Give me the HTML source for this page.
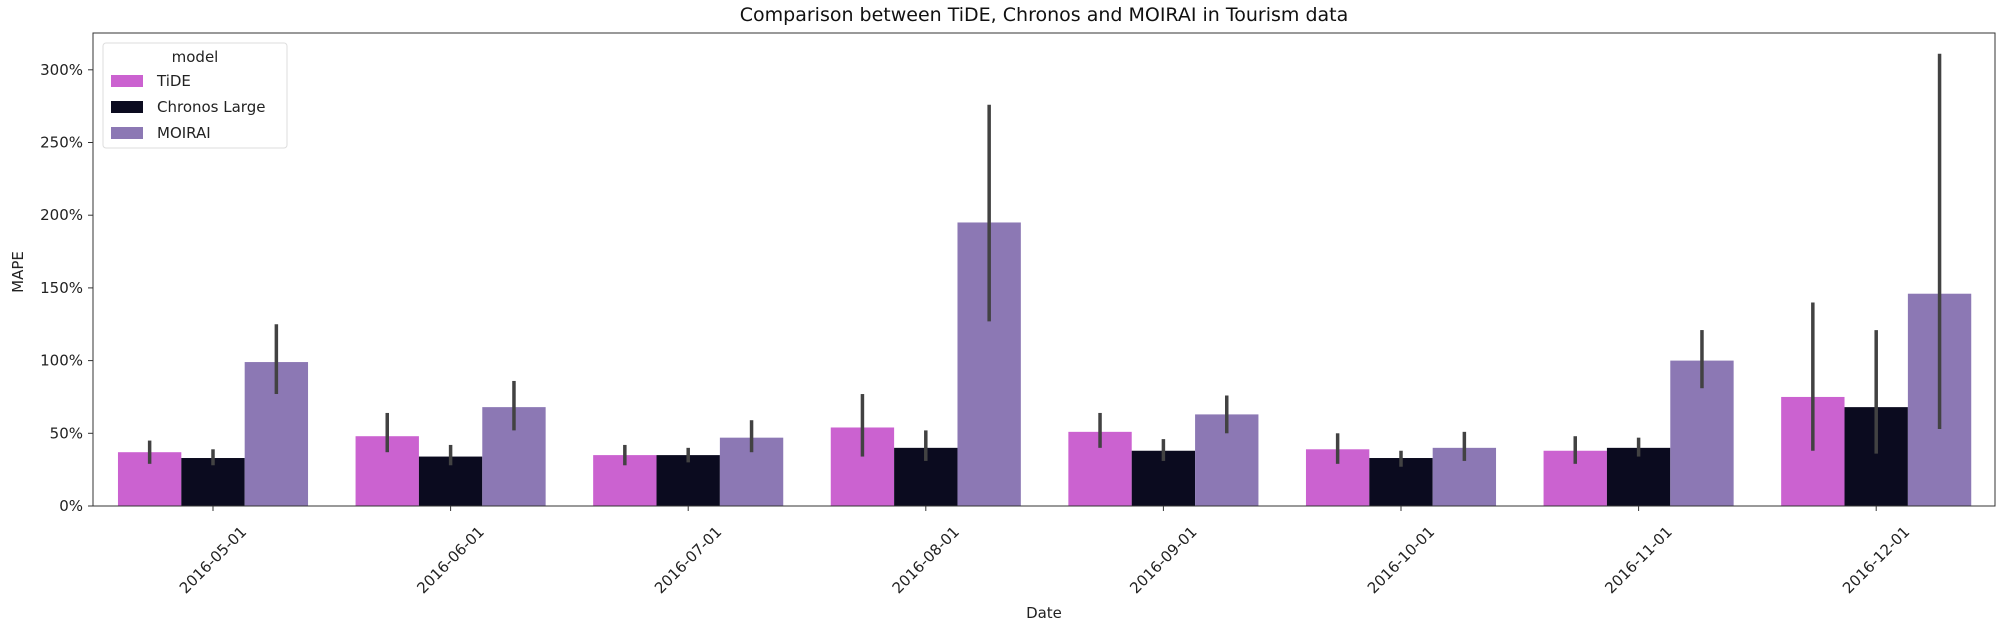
<!DOCTYPE html>
<html><head><meta charset="utf-8">
<style>
body{margin:0;background:#fff;}
svg{display:block;font-family:"DejaVu Sans","Liberation Sans",sans-serif;}
</style></head>
<body>
<svg id="chart" width="2000" height="623" viewBox="0 0 2000 623">
<text x="1044" y="21" text-anchor="middle" font-size="19" fill="#111">Comparison between TiDE, Chronos and MOIRAI in Tourism data</text>
<g id="plot"></g>
<text x="1044" y="618" text-anchor="middle" font-size="15" fill="#222">Date</text>
<text transform="translate(23,272) rotate(-90)" text-anchor="middle" font-size="15" fill="#222">MAPE</text>
</svg>
<script>
const categories=["2016-05-01","2016-06-01","2016-07-01","2016-08-01","2016-09-01","2016-10-01","2016-11-01","2016-12-01"];
const seriesNames=["TiDE","Chronos Large","MOIRAI"];
const tideVals=[37,48,35,54,51,39,38,75];
const tideLo=[29,37,28,34,40,29,29,38];
const tideHi=[45,64,42,77,64,50,48,140];
const chronosVals=[33,34,35,40,38,33,40,68];
const chronosLo=[28,28,30,31,31,27,34,36];
const chronosHi=[39,42,40,52,46,38,47,121];
const moiraiVals=[99,68,47,195,63,40,100,146];
const moiraiLo=[77,52,37,127,50,31,81,53];
const moiraiHi=[125,86,59,276,76,51,121,311];
const yTicks=[0,50,100,150,200,250,300];

const NS="http://www.w3.org/2000/svg";
const plot=document.getElementById('plot');
const L=93,R=1995,T=33,B=506;
const x0=213,step=237.6,bw=step*0.8/3;
function xScale(i){return x0+i*step;}
function yScale(v){return B-v*72.7/50;}
function mk(tag,attrs){const e=document.createElementNS(NS,tag);for(const k in attrs)e.setAttribute(k,attrs[k]);plot.appendChild(e);return e;}
const colors=["#cb62d0","#0b0b1f","#8c78b4"];
const vals=[tideVals,chronosVals,moiraiVals],los=[tideLo,chronosLo,moiraiLo],his=[tideHi,chronosHi,moiraiHi];
const keys=["tide","chronos","moirai"];
for(let s=0;s<3;s++){
  for(let i=0;i<categories.length;i++){
    const cx=xScale(i)+(s-1)*bw;
    const r=mk('rect',{x:cx-bw/2,y:yScale(vals[s][i]),width:bw,height:B-yScale(vals[s][i]),fill:colors[s]});
    
    
    const e=mk('line',{x1:cx,x2:cx,y1:yScale(los[s][i]),y2:yScale(his[s][i]),stroke:'#424242','stroke-width':3.5});
    
    
  }
}
const fr=mk('rect',{x:L,y:T,width:R-L,height:B-T,fill:'none',stroke:'#333','stroke-width':1});


for(const v of yTicks){
  const y=yScale(v);
  const t=mk('line',{x1:L-5,x2:L,y1:y,y2:y,stroke:'#333'});
  
  
  const tx=mk('text',{x:L-10,y:y+5,'text-anchor':'end','font-size':15,fill:'#222'});
  tx.textContent=v+'%';
  
  
}
categories.forEach((c,i)=>{
  const x=xScale(i);
  const t=mk('line',{x1:x,x2:x,y1:B,y2:B+5,stroke:'#333'});
  
  
  const tx=mk('text',{transform:`translate(${x},${B+54}) rotate(-45)`,'text-anchor':'middle','dominant-baseline':'central','font-size':15,fill:'#222'});
  tx.textContent=c;
  
  
});
const lg=mk('rect',{x:103,y:43,width:184,height:105,rx:3,fill:'#fff','fill-opacity':0.85,stroke:'#ddd'});


const lt=mk('text',{x:195,y:62,'text-anchor':'middle','font-size':15,fill:'#222'});
lt.textContent='model';


seriesNames.forEach((n,s)=>{
  const y=81+s*26;
  const p=mk('rect',{x:111,y:y-6,width:32,height:12,fill:colors[s]});
  
  
  const t=mk('text',{x:157,y:y+5,'font-size':15,fill:'#222'});
  t.textContent=n;
  
  
});
</script>
</body></html>
